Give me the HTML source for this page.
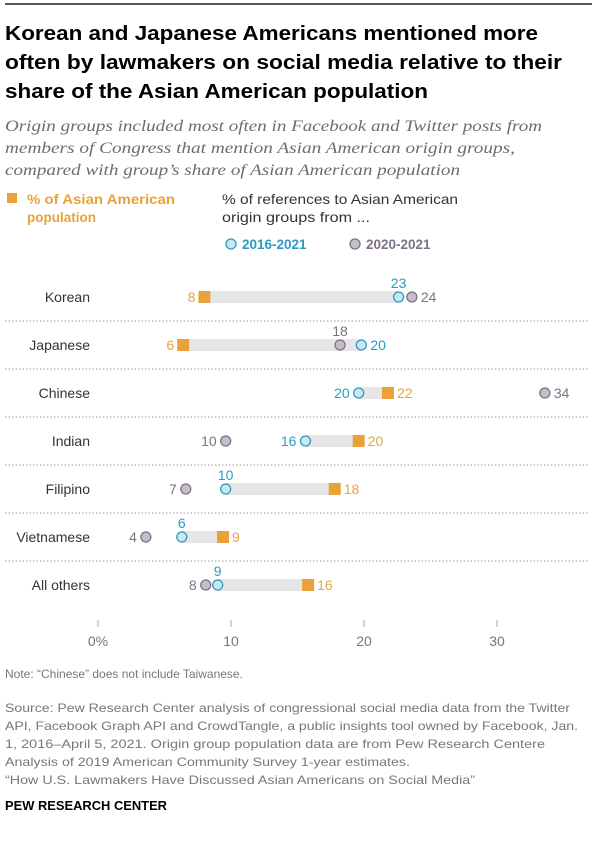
<!DOCTYPE html>
<html><head><meta charset="utf-8"><style>
html,body{margin:0;padding:0;background:#fff}
svg{display:block;font-family:"Liberation Sans",sans-serif}
</style></head><body>
<svg id="chart" width="600" height="842" viewBox="0 0 600 842" xmlns="http://www.w3.org/2000/svg">
<line x1="5" y1="4" x2="592" y2="4" stroke="#222" stroke-width="1.5"/>
<g font-weight="bold" font-size="20" fill="#000">
<text x="5" y="40" textLength="533" lengthAdjust="spacingAndGlyphs">Korean and Japanese Americans mentioned more</text>
<text x="5" y="69" textLength="557" lengthAdjust="spacingAndGlyphs">often by lawmakers on social media relative to their</text>
<text x="5" y="98" textLength="423" lengthAdjust="spacingAndGlyphs">share of the Asian American population</text>
</g>
<g font-family="Liberation Serif,serif" font-style="italic" font-size="16" fill="#6d6d6d">
<text x="5" y="131" textLength="537" lengthAdjust="spacingAndGlyphs">Origin groups included most often in Facebook and Twitter posts from</text>
<text x="5" y="153" textLength="510" lengthAdjust="spacingAndGlyphs">members of Congress that mention Asian American origin groups,</text>
<text x="5" y="175" textLength="455" lengthAdjust="spacingAndGlyphs">compared with group’s share of Asian American population</text>
</g>
<g font-weight="bold" font-size="13.5" fill="#e9a23b">
<rect x="7" y="193" width="10" height="10" fill="#e9a23b"/>
<text x="27" y="204" textLength="148" lengthAdjust="spacingAndGlyphs">% of Asian American</text>
<text x="27" y="222">population</text>
</g>
<g font-size="14" fill="#333">
<text x="222" y="204" textLength="236" lengthAdjust="spacingAndGlyphs">% of references to Asian American</text>
<text x="222" y="222" textLength="148" lengthAdjust="spacingAndGlyphs">origin groups from ...</text>
</g>
<g>
<circle cx="231" cy="244" r="5" fill="#cde5ef" stroke="#2a9bc4" stroke-width="1.3"/>
<text x="242" y="249" font-weight="bold" font-size="13.5" fill="#2a9bc4">2016-2021</text>
</g>
<g>
<circle cx="355" cy="244" r="5" fill="#c5bec8" stroke="#7d7283" stroke-width="1.3"/>
<text x="366" y="249" font-weight="bold" font-size="13.5" fill="#7d7283">2020-2021</text>
</g>
<g id="plot"></g>
<text x="5" y="678" font-size="12" fill="#777">Note: “Chinese” does not include Taiwanese.</text>
<g font-size="12" fill="#777">
<text x="5" y="712" textLength="565" lengthAdjust="spacingAndGlyphs">Source: Pew Research Center analysis of congressional social media data from the Twitter</text>
<text x="5" y="730" textLength="573" lengthAdjust="spacingAndGlyphs">API, Facebook Graph API and CrowdTangle, a public insights tool owned by Facebook, Jan.</text>
<text x="5" y="748" textLength="540" lengthAdjust="spacingAndGlyphs">1, 2016–April 5, 2021. Origin group population data are from Pew Research Centere</text>
<text x="5" y="766" textLength="405" lengthAdjust="spacingAndGlyphs">Analysis of 2019 American Community Survey 1-year estimates.</text>
<text x="5" y="784" textLength="470" lengthAdjust="spacingAndGlyphs">“How U.S. Lawmakers  Have Discussed Asian Americans on Social Media”</text>
</g>
<text x="5" y="810" font-weight="bold" font-size="13" fill="#000" textLength="162" lengthAdjust="spacingAndGlyphs">PEW RESEARCH CENTER</text>
</svg>
<script>
const categories = ["Korean","Japanese","Chinese","Indian","Filipino","Vietnamese","All others"];
const population = [8.0, 6.4, 21.8, 19.6, 17.8, 9.4, 15.8];
const refs2016 = [22.6, 19.8, 19.6, 15.6, 9.6, 6.3, 9.0];
const refs2020 = [23.6, 18.2, 33.6, 9.6, 6.6, 3.6, 8.1];
// label placement per row: [population, 2016-2021, 2020-2021]; L=left, R=right, A=above
const placement = [["L","A","R"],["L","R","A"],["R","L","R"],["R","L","L"],["R","A","L"],["R","A","L"],["R","A","L"]];
const ticks = [0,10,20,30];
const tickLabels = ["0%","10","20","30"];

const NS = "http://www.w3.org/2000/svg";
const plot = document.getElementById("plot");
const x = v => 98 + v * 13.3;
const y = i => 297 + i * 48;
function mk(tag, attrs, parent){const e=document.createElementNS(NS,tag);for(const k in attrs)e.setAttribute(k,attrs[k]);(parent||plot).appendChild(e);return e;}
const colors = {pop:"#e9a23b", a:"#2a9bc4", b:"#7d7283"};

categories.forEach((c,i)=>{
  const g = mk("g",{});
  
  
  const cy = y(i);
  const lab = mk("text",{x:90,y:cy+5,"text-anchor":"end","font-size":"14",fill:"#333"},g);
  lab.textContent = c;
  
  
  if(i < categories.length-1){
    const sep = mk("line",{x1:5,x2:588,y1:cy+24,y2:cy+24,stroke:"#999","stroke-width":1,"stroke-dasharray":"1.5,2"},g);
    
    
  }
  const x1 = Math.min(x(population[i]),x(refs2016[i])), x2 = Math.max(x(population[i]),x(refs2016[i]));
  const bar = mk("rect",{x:x1,y:cy-6,width:x2-x1,height:12,fill:"#e6e6e6"},g);
  
  
  const vals = [population[i], refs2016[i], refs2020[i]];
  const cols = [colors.pop, colors.a, colors.b];
  const cB = mk("circle",{cx:x(refs2020[i]),cy:cy,r:5,fill:"#c5bec8",stroke:colors.b,"stroke-width":1.3},g);
  
  
  const cA = mk("circle",{cx:x(refs2016[i]),cy:cy,r:5,fill:"#cde5ef",stroke:colors.a,"stroke-width":1.3},g);
  
  
  const sq = mk("rect",{x:x(population[i])-6,y:cy-6,width:12,height:12,fill:colors.pop},g);
  
  
  vals.forEach((v,k)=>{
    const p = placement[i][k];
    let tx = x(v), ty = cy+5, anchor="middle";
    if(p==="L"){tx = x(v)-9; anchor="end";}
    else if(p==="R"){tx = x(v)+9; anchor="start";}
    else {ty = cy-9;}
    const t = mk("text",{x:tx,y:ty,"text-anchor":anchor,"font-size":"14",fill:cols[k]},g);
    t.textContent = Math.round(v);
    
    
  });
});
ticks.forEach((t,i)=>{
  const tl = mk("line",{x1:x(t),x2:x(t),y1:620,y2:627,stroke:"#aaa","stroke-width":1});
  
  
  const tt = mk("text",{x:x(t),y:646,"text-anchor":"middle","font-size":"14",fill:"#777"});
  tt.textContent = tickLabels[i];
  
  
});
</script>
</body></html>
